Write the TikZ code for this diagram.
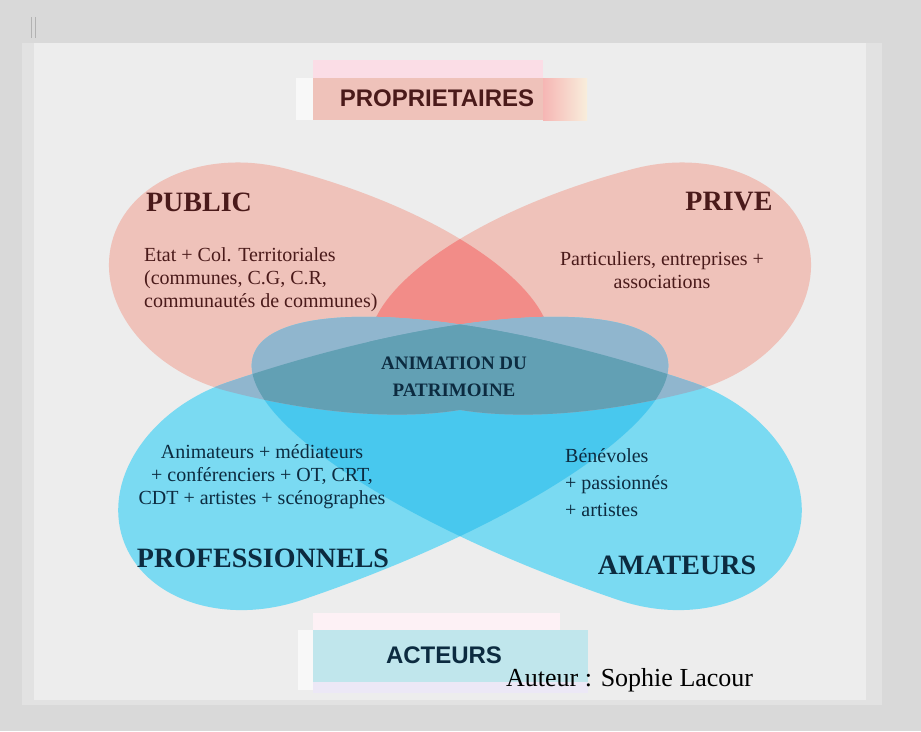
\documentclass[tikz,border=0pt]{standalone}
\usepackage{fontspec}
\setmainfont{Liberation Serif}
\newfontfamily\arialfont{Liberation Sans}

\definecolor{fond}{HTML}{D9D9D9}
\definecolor{bord}{HTML}{E2E2E2}
\definecolor{panneau}{HTML}{EDEDED}
\definecolor{rose}{HTML}{EFC2BA}
\definecolor{roseclair}{HTML}{FBDDE6}
\definecolor{rosevif}{HTML}{F6B6B4}
\definecolor{creme}{HTML}{F8EEDC}
\definecolor{rouge}{HTML}{F28C88}
\definecolor{bleu}{HTML}{7ADAF2}
\definecolor{cyan}{HTML}{48C8EE}
\definecolor{mixte}{HTML}{90B6CE}
\definecolor{centre}{HTML}{62A0B4}
\definecolor{turquoise}{HTML}{C0E6EC}
\definecolor{lavande}{HTML}{ECE8F6}
\definecolor{brun}{HTML}{4A1A1A}
\definecolor{marine}{HTML}{0C2B40}

% feuille en forme d'oeuf : gros bout a gauche, pointe a droite
\newcommand{\oeuf}[1]{(0pt,\ry pt) arc[start angle=90,end angle=270,x radius=\rx pt,y radius=\ry pt]
  arc[start angle=270,end angle=450,x radius=#1 pt,y radius=\ry pt] -- cycle}

\begin{document}
\begin{tikzpicture}[x=1pt,y=-1pt,
  pl/.style={shift={(257,280)},rotate=-14.5},
  pr/.style={shift={(663,280)},rotate=194.5},
  bl/.style={shift={(265,491)},rotate=18.7},
  br/.style={shift={(655,491)},rotate=161.3},
  titre/.style={inner sep=0pt,font=\fontsize{28}{30}\selectfont\bfseries},
  corps/.style={inner sep=0pt,font=\fontsize{20}{23}\selectfont}]
  \pgfmathsetmacro{\rx}{150}
  \pgfmathsetmacro{\ry}{115}
  \pgfmathsetmacro{\qr}{302} % queue des feuilles roses
  \pgfmathsetmacro{\qb}{424} % queue des feuilles bleues
  \useasboundingbox (0,0) rectangle (921,731);

  % fond et cadre
  \fill[fond] (0,0) rectangle (921,731);
  \fill[bord] (22,43) rectangle (882,705);
  \fill[panneau] (34,43) rectangle (866,700);
  \draw[gray!60,line width=1pt] (31,17) -- (31,38) (35,17) -- (35,38);

  % les quatre feuilles
  \foreach \f in {pl,pr}
    \fill[rose,\f] \oeuf{\qr};
  \begin{scope}
    \clip[pl] \oeuf{\qr};
    \fill[rouge,pr] \oeuf{\qr};
  \end{scope}
  \foreach \f in {bl,br}
    \fill[bleu,\f] \oeuf{\qb};
  \begin{scope}
    \clip[bl] \oeuf{\qb};
    \fill[cyan,br] \oeuf{\qb};
  \end{scope}
  \foreach \u in {bl,br}
    \foreach \v in {pl,pr}{
      \begin{scope}
        \clip[\u] \oeuf{\qb};
        \fill[mixte,\v] \oeuf{\qr};
      \end{scope}
    }
  \begin{scope}
    \clip[bl] \oeuf{\qb};
    \clip[br] \oeuf{\qb};
    \fill[centre,pl] \oeuf{\qr};
    \fill[centre,pr] \oeuf{\qr};
  \end{scope}

  % cartouches
  \fill[white!60!panneau] (296,78) rectangle (313,120);
  \fill[roseclair] (313,60) rectangle (543,78);
  \fill[rose] (313,78) rectangle (543,120);
  \shade[left color=rosevif,right color=creme] (543,78) rectangle (587,120);
  \fill[white!60!panneau] (298,630) rectangle (313,690);
  \fill[roseclair!40!white] (313,613) rectangle (560,630);
  \fill[turquoise] (313,630) rectangle (588,682);
  \fill[lavande] (313,682) rectangle (588,693);

  \node[text=brun,font=\arialfont\fontsize{24}{26}\selectfont\bfseries] (proprietaires) at (437,98) {PROPRIETAIRES};
  \node[text=marine,font=\arialfont\fontsize{24}{26}\selectfont\bfseries] (acteurs) at (444,655) {ACTEURS};
  \node[anchor=base west,inner sep=0pt,font=\fontsize{26}{28}\selectfont] (auteur) at (506,686) {Auteur : Sophie Lacour};

  % titres des feuilles
  \node[titre,text=brun] (public) at (199,202) {PUBLIC};
  \node[titre,text=brun] (prive) at (729,202) {PRIVE};
  \node[titre,text=marine] (pros) at (263,558) {PROFESSIONNELS};
  \node[titre,text=marine] (amateurs) at (677,565) {AMATEURS};

  \node[corps,text=brun,align=left,anchor=west] (publictexte) at (144,280)
    {Etat + Col. Territoriales\\(communes, C.G, C.R,\\communautés de communes)};
  \node[corps,text=brun,align=center] (privetexte) at (662,270)
    {Particuliers, entreprises +\\associations};
  \node[corps,text=marine,align=center] (prostexte) at (262,477)
    {Animateurs + médiateurs\\+ conférenciers + OT, CRT,\\CDT + artistes + scénographes};
  \node[corps,text=marine,align=left,anchor=west,font=\fontsize{20}{27}\selectfont] (amateurstexte) at (565,483)
    {Bénévoles\\+ passionnés\\+ artistes};

  \node[inner sep=0pt,text=marine,align=center,font=\fontsize{19}{27}\selectfont\bfseries] (animation) at (454,377)
    {ANIMATION DU\\PATRIMOINE};
\end{tikzpicture}
\end{document}
